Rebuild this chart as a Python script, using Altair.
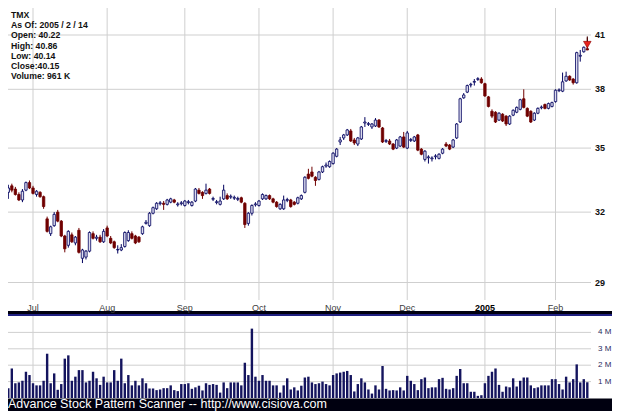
import altair as alt
import pandas as pd

# ---------------- data ----------------
month_labels = ["Jul", "Aug", "Sep", "Oct", "Nov", "Dec", "2005", "Feb"]
month_index = [7, 28, 50, 71, 92, 113, 135, 155]
price_ticks = [29, 32, 35, 38, 41]
vol_ticks = [1, 2, 3, 4]
vol_tick_labels = ["1 M", "2 M", "3 M", "4 M"]
info_lines = ["TMX", "As Of: 2005 / 2 / 14", "Open: 40.22", "High: 40.86",
              "Low: 40.14", "Close:40.15", "Volume: 961 K"]
footer = "Advance Stock Pattern Scanner -- http://www.cisiova.com"

opens = [32.90, 33.20, 33.05, 32.80, 32.55, 33.00, 33.35, 33.10, 32.80, 32.90,
         32.70, 31.70, 31.05, 31.40, 32.00, 31.60, 30.95, 30.55, 31.00, 30.65,
         31.20, 30.00, 30.05, 30.30, 31.05, 30.85, 30.90, 30.70, 31.30, 30.85,
         30.70, 30.35, 30.35, 30.50, 30.75, 31.05, 30.95, 30.90, 31.05, 31.50,
         31.40, 31.95, 32.15, 32.38, 32.40, 32.35, 32.45, 32.55, 32.33, 32.38,
         32.30, 32.43, 32.30, 32.50, 33.00, 32.90, 32.85, 33.05, 32.58, 32.43,
         32.35, 32.60, 32.75, 32.68, 32.63, 32.58, 32.65, 32.40, 31.50, 31.95,
         32.33, 32.30, 32.60, 32.60, 32.75, 32.60, 32.45, 32.15, 32.15, 32.53,
         32.55, 32.45, 32.40, 32.60, 32.90, 33.75, 33.85, 33.60, 33.50, 33.85,
         34.13, 34.10, 34.25, 34.60, 35.30, 35.50, 35.65, 35.85, 35.40, 35.20,
         35.45, 36.25, 36.18, 36.05, 36.10, 36.40, 36.00, 35.33, 35.35, 35.20,
         35.00, 35.10, 35.55, 35.00, 35.38, 35.35, 35.65, 34.95, 34.45, 34.53,
         34.48, 34.58, 34.50, 34.75, 35.20, 35.15, 35.05, 35.50, 36.30, 37.55,
         37.85, 38.23, 38.38, 38.53, 38.55, 38.30, 37.60, 36.85, 36.80, 36.40,
         36.70, 36.60, 36.20, 36.65, 36.80, 36.95, 37.50, 37.00, 36.85, 36.40,
         36.75, 37.03, 37.20, 37.00, 37.10, 37.35, 37.93, 37.90, 38.45, 38.70,
         38.55, 38.35, 39.80, 40.05, 40.22]
highs = [33.25, 33.30, 33.15, 32.90, 33.05, 33.40, 33.45, 33.20, 33.00, 32.95,
         32.75, 31.80, 31.40, 32.00, 32.10, 31.65, 31.00, 31.20, 31.10, 30.95,
         31.30, 30.40, 30.35, 31.15, 31.15, 31.00, 31.00, 31.25, 31.40, 30.95,
         30.75, 30.55, 30.60, 31.15, 31.20, 31.15, 31.00, 30.95, 31.40, 31.65,
         32.00, 32.25, 32.45, 32.50, 32.50, 32.60, 32.65, 32.60, 32.45, 32.50,
         32.55, 32.55, 32.50, 33.10, 33.10, 32.95, 33.30, 33.10, 32.70, 32.55,
         32.70, 33.25, 32.85, 32.80, 32.75, 32.70, 32.70, 32.45, 32.00, 32.35,
         32.45, 32.55, 32.85, 32.80, 32.80, 32.65, 32.50, 32.40, 32.75, 32.65,
         32.60, 32.50, 32.70, 32.80, 33.65, 34.00, 34.10, 33.65, 33.90, 34.15,
         34.30, 34.40, 34.80, 35.00, 35.55, 35.70, 35.95, 35.95, 35.50, 35.55,
         36.10, 36.55, 36.30, 36.25, 36.50, 36.45, 36.05, 35.45, 35.45, 35.25,
         35.45, 35.60, 35.80, 35.85, 35.50, 35.60, 35.70, 35.00, 34.90, 34.65,
         34.60, 34.70, 34.75, 35.00, 35.30, 35.20, 35.45, 36.25, 37.55, 37.80,
         38.25, 38.35, 38.55, 38.65, 38.65, 38.35, 37.65, 36.95, 36.85, 36.80,
         36.75, 36.65, 36.65, 36.95, 37.10, 37.50, 38.00, 37.05, 36.90, 36.80,
         37.05, 37.15, 37.25, 37.30, 37.35, 38.00, 38.05, 38.90, 38.95, 38.75,
         38.60, 40.05, 40.15, 40.35, 40.86]
lows = [32.60, 32.90, 32.75, 32.50, 32.45, 32.95, 33.05, 32.80, 32.70, 32.65,
        32.15, 31.10, 30.95, 31.35, 31.55, 30.90, 30.25, 30.45, 30.65, 30.55,
        30.20, 29.80, 29.95, 30.25, 30.80, 30.75, 30.65, 30.65, 30.90, 30.60,
        30.40, 30.20, 30.30, 30.45, 30.70, 30.80, 30.60, 30.65, 31.00, 31.45,
        31.35, 31.90, 32.10, 32.30, 32.10, 32.30, 32.40, 32.40, 32.25, 32.30,
        32.25, 32.35, 32.25, 32.45, 32.80, 32.60, 32.80, 32.80, 32.50, 32.35,
        32.30, 32.55, 32.55, 32.60, 32.55, 32.50, 32.40, 31.30, 31.40, 31.85,
        32.25, 32.25, 32.55, 32.55, 32.55, 32.40, 32.20, 32.10, 32.10, 32.45,
        32.20, 32.30, 32.35, 32.55, 32.85, 33.50, 33.60, 33.20, 33.45, 33.80,
        34.05, 34.05, 34.20, 34.55, 35.15, 35.40, 35.60, 35.30, 35.15, 35.10,
        35.40, 36.05, 36.10, 35.95, 36.05, 36.00, 35.25, 35.25, 35.15, 34.90,
        34.95, 35.05, 35.00, 34.95, 35.30, 35.30, 34.85, 34.65, 34.35, 34.25,
        34.35, 34.45, 34.45, 34.70, 35.05, 34.90, 35.00, 35.45, 36.25, 37.50,
        37.80, 38.10, 38.20, 38.45, 38.30, 37.60, 37.05, 36.50, 36.25, 36.35,
        36.30, 36.10, 36.15, 36.60, 36.75, 36.90, 37.00, 36.55, 36.25, 36.35,
        36.70, 36.95, 36.95, 36.95, 37.05, 37.30, 37.85, 37.85, 38.40, 38.45,
        38.25, 38.30, 39.50, 40.00, 40.14]
closes = [33.10, 33.00, 32.80, 32.55, 32.95, 33.35, 33.10, 32.85, 32.95, 32.70,
          32.25, 31.15, 31.35, 31.90, 31.60, 30.95, 30.40, 31.15, 30.70, 30.90,
          30.25, 30.35, 30.30, 31.10, 30.85, 30.90, 30.70, 31.15, 30.95, 30.65,
          30.45, 30.37, 30.45, 31.10, 31.10, 30.85, 30.65, 30.70, 31.35, 31.55,
          31.95, 32.20, 32.40, 32.42, 32.35, 32.55, 32.60, 32.45, 32.37, 32.42,
          32.50, 32.47, 32.45, 33.05, 32.85, 32.75, 33.00, 32.85, 32.62, 32.47,
          32.50, 33.00, 32.60, 32.72, 32.67, 32.62, 32.45, 31.45, 31.95, 32.30,
          32.37, 32.50, 32.80, 32.75, 32.60, 32.45, 32.25, 32.35, 32.55, 32.57,
          32.25, 32.35, 32.65, 32.75, 33.60, 33.55, 33.65, 33.45, 33.85, 34.10,
          34.18, 34.35, 34.75, 34.95, 35.40, 35.65, 35.90, 35.35, 35.25, 35.50,
          36.05, 36.30, 36.22, 36.20, 36.40, 36.05, 35.30, 35.37, 35.20, 34.95,
          35.40, 35.55, 35.05, 35.75, 35.42, 35.55, 34.90, 34.70, 34.85, 34.57,
          34.52, 34.62, 34.70, 34.95, 35.10, 34.95, 35.40, 36.20, 37.50, 37.70,
          38.20, 38.27, 38.42, 38.57, 38.35, 37.65, 37.10, 36.60, 36.30, 36.75,
          36.35, 36.20, 36.60, 36.90, 37.05, 37.45, 37.05, 36.60, 36.30, 36.75,
          37.00, 37.07, 37.00, 37.25, 37.30, 37.95, 37.97, 38.40, 38.70, 38.50,
          38.35, 40.00, 39.85, 40.30, 40.15]
volumes_m = [0.60, 1.80, 0.90, 0.95, 1.05, 1.60, 1.40, 0.90, 0.77, 0.77,
             1.05, 2.70, 0.90, 1.50, 0.50, 0.85, 2.40, 2.60, 1.05, 1.30,
             1.70, 1.70, 0.95, 1.05, 1.60, 1.20, 0.80, 1.30, 0.95, 0.95,
             1.70, 1.05, 2.40, 0.90, 1.40, 0.77, 1.05, 0.77, 1.20, 0.90,
             0.58, 0.58, 0.48, 0.52, 0.60, 0.60, 0.77, 0.48, 0.42, 0.85,
             0.85, 0.90, 0.56, 0.65, 0.75, 0.46, 0.90, 0.80, 0.85, 0.80,
             0.33, 0.95, 0.60, 0.95, 0.95, 0.95, 0.77, 2.15, 1.40, 4.23,
             1.30, 1.05, 1.40, 1.05, 1.05, 0.77, 0.77, 0.33, 0.77, 1.20,
             0.52, 0.65, 0.46, 0.75, 1.25, 1.30, 0.95, 0.85, 0.90, 1.00,
             0.85, 0.77, 1.40, 1.50, 1.55, 1.60, 1.65, 1.40, 0.40, 0.85,
             1.20, 0.95, 0.52, 0.27, 0.77, 0.52, 1.95, 0.56, 0.46, 0.48,
             0.46, 0.65, 0.46, 1.35, 1.05, 0.85, 0.48, 1.15, 1.25, 0.60,
             0.65, 0.65, 1.15, 1.23, 0.56, 0.52, 0.60, 1.35, 1.77, 0.90,
             0.90, 0.38, 0.38, 0.13, 0.17, 0.90, 1.35, 1.60, 1.80, 0.80,
             0.38, 0.70, 0.65, 1.20, 0.70, 1.05, 1.25, 1.25, 0.77, 0.60,
             0.65, 0.77, 0.77, 0.77, 1.15, 1.15, 0.85, 0.52, 1.30, 0.95,
             1.15, 2.05, 0.95, 1.15, 0.96]
arrow_index = [164]
arrow_price = [40.45]
arrow_tail = [40.92]

# ---------------- tables ----------------
n = len(opens)
df = pd.DataFrame({
    "idx": list(range(n)), "open": opens, "high": highs, "low": lows,
    "close": closes, "vol": volumes_m,
})
df["dir"] = ["up" if c >= o else "down" for o, c in zip(opens, closes)]
months = pd.DataFrame({"idx": month_index, "label": month_labels})
prices = pd.DataFrame({"p": price_ticks, "label": [str(p) for p in price_ticks]})
vols = pd.DataFrame({"v": vol_ticks, "label": vol_tick_labels})
info = pd.DataFrame({"line": list(range(len(info_lines))), "text": info_lines})
arrow = pd.DataFrame({"idx": arrow_index, "p": arrow_price, "p2": arrow_tail})
one = pd.DataFrame({"t": [footer]})

FONT = "Liberation Sans"
W, H = 604, 403
MAIN_BOTTOM = 303
VOL_TOP, VOL_ZERO = 308, 390

X = alt.Scale(domain=[0, n - 1], range=[0.3, 579.3], nice=False, zero=False, padding=0)
Y = alt.Scale(type="log", domain=[29, 41], range=[274.5, 27], nice=False, zero=False, padding=0)
YV = alt.Scale(domain=[0, 4], range=[VOL_ZERO, VOL_ZERO - 4 * 16.4], nice=False, zero=True, padding=0)
YI = alt.Scale(domain=[0, 6], range=[7, 68], nice=False, zero=False, padding=0)

xq = alt.X("idx:Q", scale=X, axis=None)

UP_STROKE, UP_FILL = "#00005e", "#dcdcee"
DN = "#700000"
GRID = "#cfcfcf"

# panels
main_panel = alt.Chart(one).mark_rect(color="white").encode(
    x=alt.value(0), x2=alt.value(W), y=alt.value(0), y2=alt.value(MAIN_BOTTOM))
vol_panel = alt.Chart(one).mark_rect(color="white").encode(
    x=alt.value(0), x2=alt.value(W), y=alt.value(VOL_TOP), y2=alt.value(VOL_ZERO + 0.5))
sep_line = alt.Chart(one).mark_rule(color="#2b2ba8", strokeWidth=1.6).encode(
    x=alt.value(0), x2=alt.value(W), y=alt.value(VOL_TOP - 1))

# main grid
vgrid = alt.Chart(months).mark_rule(color=GRID, strokeWidth=1).encode(
    x=xq, y=alt.value(0), y2=alt.value(292))
hgrid = alt.Chart(prices).mark_rule(color=GRID, strokeWidth=1).encode(
    y=alt.Y("p:Q", scale=Y, axis=None), x=alt.value(0), x2=alt.value(583))
mlab = alt.Chart(months).mark_text(font=FONT, fontSize=9, color="#404040",
                                   baseline="middle", align="center").encode(
    x=xq, y=alt.value(299.5), text="label:N").transform_filter("datum.label != '2005'")
mlab_b = alt.Chart(months).mark_text(font=FONT, fontSize=9, color="#000000", fontWeight="bold",
                                     baseline="middle", align="center").encode(
    x=xq, y=alt.value(299.5), text="label:N").transform_filter("datum.label == '2005'")
plab = alt.Chart(prices).mark_text(font=FONT, fontSize=9, fontWeight="bold", color="#111111",
                                   align="left", baseline="middle").encode(
    x=alt.value(587), y=alt.Y("p:Q", scale=Y, axis=None), text="label:N")

# candles
dir_scale_stroke = alt.Scale(domain=["up", "down"], range=[UP_STROKE, DN])
dir_scale_fill = alt.Scale(domain=["up", "down"], range=[UP_FILL, DN])
wicks = alt.Chart(df).mark_rule(strokeWidth=1).encode(
    x=xq, y=alt.Y("low:Q", scale=Y, axis=None), y2="high:Q",
    color=alt.Color("dir:N", scale=dir_scale_stroke, legend=None))
bodies = alt.Chart(df).mark_bar(size=2.4, strokeWidth=0.8).encode(
    x=xq, y=alt.Y("open:Q", scale=Y, axis=None), y2="close:Q",
    fill=alt.Fill("dir:N", scale=dir_scale_fill, legend=None),
    stroke=alt.Stroke("dir:N", scale=dir_scale_stroke, legend=None))

# arrow
arrow_tail_rule = alt.Chart(arrow).mark_rule(color="#3a0000", strokeWidth=1).encode(
    x=xq, y=alt.Y("p:Q", scale=Y, axis=None), y2="p2:Q")
arrow_head = alt.Chart(arrow).mark_point(shape="triangle-down", filled=True, size=58,
                                         color="#e8231e", opacity=1,
                                         stroke="#8a0000", strokeWidth=0.6).encode(
    x=xq, y=alt.Y("p:Q", scale=Y, axis=None))

# volume panel
vvgrid = alt.Chart(months).mark_rule(color=GRID, strokeWidth=1).encode(
    x=xq, y=alt.value(VOL_TOP), y2=alt.value(VOL_ZERO))
vhgrid = alt.Chart(vols).mark_rule(color=GRID, strokeWidth=1).encode(
    y=alt.Y("v:Q", scale=YV, axis=None), x=alt.value(0), x2=alt.value(583))
vbars = alt.Chart(df).mark_bar(size=2.4, color="#14145e").encode(
    x=xq, y=alt.Y("vol:Q", scale=YV, axis=None))
vlab = alt.Chart(vols).mark_text(font=FONT, fontSize=8, color="#2a2a60",
                                  align="left", baseline="middle").encode(
    x=alt.value(590), y=alt.Y("v:Q", scale=YV, axis=None), text="label:N")

# info box text
infotxt = alt.Chart(info).mark_text(font=FONT, fontSize=8.7, fontWeight="bold", color="#111111",
                                     align="left", baseline="middle").encode(
    x=alt.value(3), y=alt.Y("line:Q", scale=YI, axis=None), text="text:N")

foot = alt.Chart(one).mark_text(font=FONT, fontSize=12.5, color="white",
                                align="left", baseline="alphabetic").encode(
    x=alt.value(0), y=alt.value(400), text="t:N")

chart = alt.layer(
    main_panel, vol_panel, sep_line,
    vgrid, hgrid, mlab, mlab_b, plab,
    wicks, bodies, arrow_tail_rule, arrow_head,
    vvgrid, vhgrid, vbars, vlab,
    infotxt, foot,
).resolve_scale(
    y="independent"
).properties(
    width=W, height=H, padding=0,
    autosize=alt.AutoSizeParams(type="none"),
    background="#000010",
).configure_view(stroke=None, fill=None)

chart.save("out.html", embed_options={"renderer": "svg", "actions": False})
